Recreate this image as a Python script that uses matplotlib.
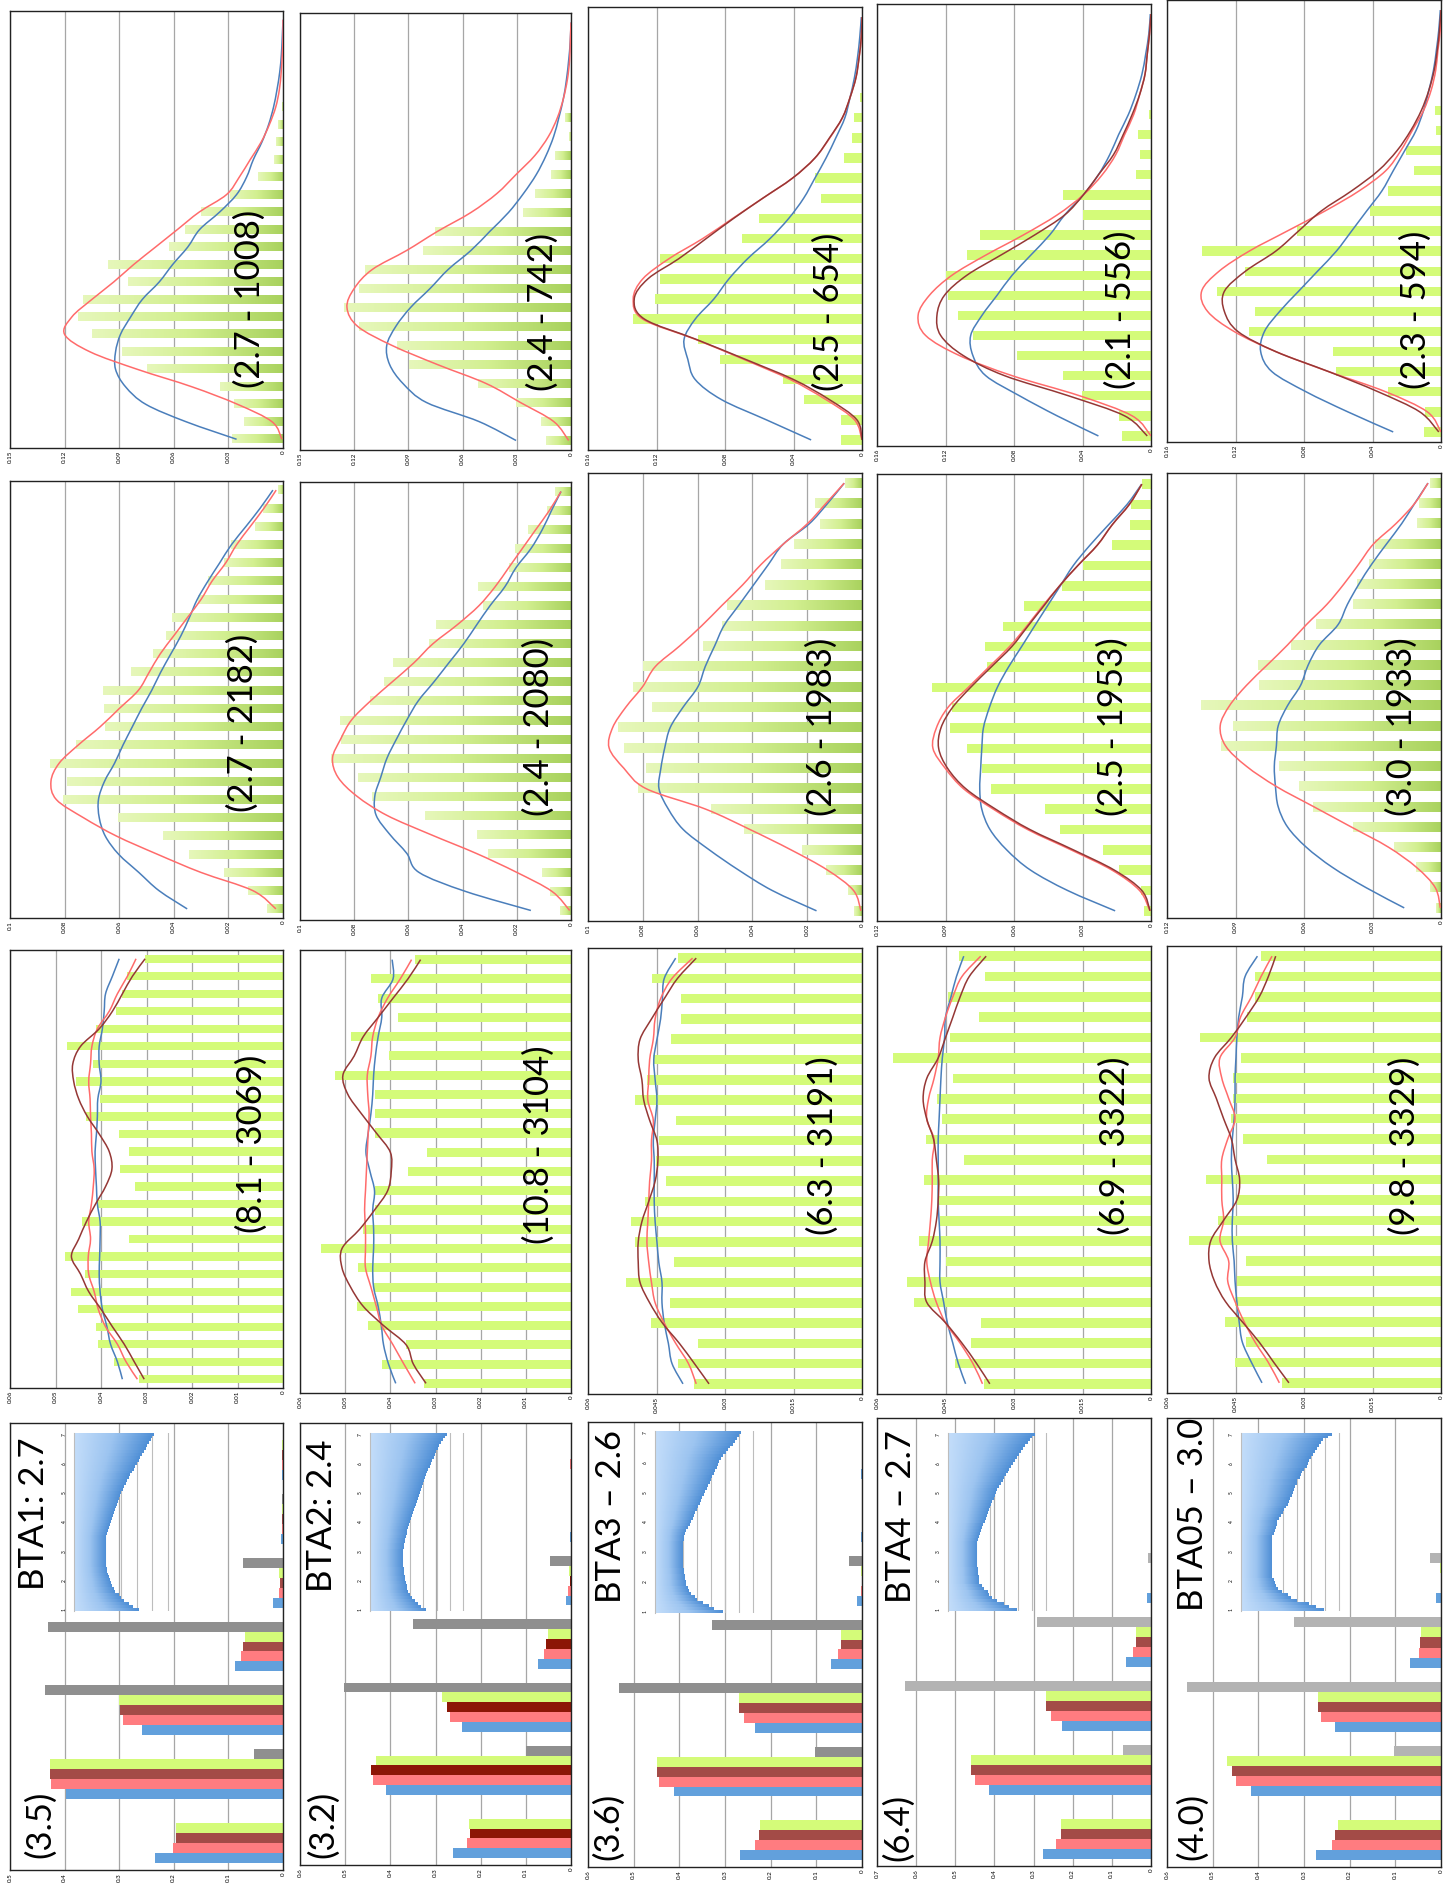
import numpy as np
import matplotlib.pyplot as plt
from matplotlib.colors import LinearSegmentedColormap
from matplotlib.path import Path
from matplotlib.patches import PathPatch

plt.rcParams['font.family'] = ['Lato', 'DejaVu Sans']

W, H = 1450, 1886

# ---------------- data ----------------
bta_names = ["BTA1: 2.7", "BTA2: 2.4", "BTA3 \u2013 2.6", "BTA4 \u2013 2.7", "BTA05 \u2013 3.0"]
bta_paren = ["(3.5)", "(3.2)", "(3.6)", "(6.4)", "(4.0)"]
flat_names = ["(8.1 - 3069)", "(10.8 - 3104)", "(6.3 - 3191)", "(6.9 - 3322)", "(9.8 - 3329)"]
med_names = ["(2.7 - 2182)", "(2.4 - 2080)", "(2.6 - 1983)", "(2.5 - 1953)", "(3.0 - 1933)"]
peak_names = ["(2.7 - 1008)", "(2.4 - 742)", "(2.5 - 654)", "(2.1 - 556)", "(2.3 - 594)"]

# grouped bars: 7 categories per BTA
grp_blue = [[0.235, 0.397, 0.259, 0.087, 0.018, 0.003, 0.002],
            [0.261, 0.409, 0.241, 0.073, 0.012, 0.002, 0.001],
            [0.267, 0.412, 0.235, 0.067, 0.011, 0.002, 0.002],
            [0.277, 0.414, 0.227, 0.064, 0.011, 0.001, 0.001],
            [0.274, 0.416, 0.233, 0.067, 0.010, 0.001, 0.001]]
grp_salmon = [[0.201, 0.424, 0.293, 0.077, 0.007, 0.001, 0.001],
              [0.230, 0.438, 0.268, 0.059, 0.006, 0.001, 0.002],
              [0.235, 0.444, 0.259, 0.053, 0.002, 0.001, 0.0],
              [0.243, 0.449, 0.256, 0.047, 0.001, 0.0, 0.0],
              [0.239, 0.449, 0.263, 0.049, 0.001, 0.0, 0.0]]
grp_dark = [[0.196, 0.426, 0.299, 0.073, 0.006, 0.001, 0.001],
            [0.224, 0.443, 0.274, 0.056, 0.003, 0.001, 0.001],
            [0.226, 0.449, 0.269, 0.047, 0.001, 0.001, 0.0],
            [0.230, 0.461, 0.269, 0.039, 0.001, 0.0, 0.0],
            [0.233, 0.457, 0.269, 0.047, 0.001, 0.0, 0.0]]
grp_lime = [[0.196, 0.427, 0.300, 0.070, 0.007, 0.001, 0.002],
            [0.226, 0.432, 0.286, 0.052, 0.004, 0.0, 0.0],
            [0.224, 0.450, 0.269, 0.045, 0.002, 0.001, 0.0],
            [0.230, 0.461, 0.269, 0.039, 0.001, 0.0, 0.0],
            [0.226, 0.469, 0.269, 0.043, 0.002, 0.0, 0.0]]
grp_gray = [[0.0, 0.054, 0.436, 0.431, 0.074, 0.002, 0.0],
            [0.0, 0.099, 0.503, 0.349, 0.046, 0.0, 0.0],
            [0.0, 0.102, 0.532, 0.328, 0.029, 0.0, 0.0],
            [0.0, 0.071, 0.629, 0.291, 0.007, 0.0, 0.0],
            [0.0, 0.102, 0.557, 0.321, 0.024, 0.0, 0.0]]
grp_max = [0.5, 0.6, 0.6, 0.7, 0.6]
grp_darkcol = ['#a34b47', '#8c1606', '#a34b47', '#a34b47', '#a34b47']
grp_graycol = ['#8f8f8f', '#8f8f8f', '#8f8f8f', '#b3b3b3', '#b3b3b3']

# inset bar charts (positions 1.0 .. 7.0 step 0.1)
inset_pos = np.arange(10, 71) / 10
inset_vals = [
    [4.14, 3.74, 3.46, 3.18, 2.99, 2.82, 2.61, 2.50, 2.40, 2.34,
     2.25, 2.19, 2.12, 2.08, 2.06, 2.04, 2.02, 2.02, 2.02, 2.02,
     2.02, 2.02, 2.02, 2.02, 2.02, 2.04, 2.08, 2.12, 2.19, 2.25,
     2.34, 2.40, 2.47, 2.53, 2.59, 2.65, 2.72, 2.78, 2.86, 2.92,
     2.99, 3.08, 3.16, 3.27, 3.35, 3.46, 3.57, 3.67, 3.78, 3.89,
     3.99, 4.10, 4.20, 4.31, 4.42, 4.54, 4.65, 4.75, 4.86, 4.97, 5.10],
    [4.14, 3.81, 3.56, 3.31, 3.08, 2.93, 2.83, 2.76, 2.71, 2.66,
     2.61, 2.56, 2.53, 2.51, 2.48, 2.46, 2.43, 2.43, 2.43, 2.43,
     2.46, 2.48, 2.51, 2.56, 2.61, 2.66, 2.71, 2.76, 2.81, 2.88,
     2.93, 3.01, 3.08, 3.16, 3.23, 3.31, 3.38, 3.46, 3.53, 3.61,
     3.71, 3.78, 3.86, 3.93, 4.01, 4.11, 4.19, 4.26, 4.34, 4.44,
     4.54, 4.64, 4.74, 4.84, 4.94, 5.04, 5.16, 5.29, 5.41, 5.59, 5.76],
    [4.79, 4.19, 3.79, 3.36, 3.00, 2.79, 2.57, 2.39, 2.29, 2.21,
     2.19, 2.14, 2.11, 2.07, 2.04, 2.00, 2.00, 2.00, 2.00, 2.00,
     2.00, 2.00, 2.00, 2.00, 2.04, 2.07, 2.14, 2.21, 2.29, 2.43,
     2.57, 2.66, 2.75, 2.85, 2.95, 3.05, 3.15, 3.25, 3.35, 3.45,
     3.57, 3.67, 3.77, 3.87, 3.97, 4.07, 4.17, 4.27, 4.37, 4.47,
     4.57, 4.70, 4.85, 5.00, 5.15, 5.30, 5.50, 5.65, 5.80, 5.95, 6.14],
    [4.90, 4.29, 4.00, 3.45, 3.10, 2.90, 2.79, 2.55, 2.39, 2.20,
     2.19, 2.17, 2.14, 2.12, 2.10, 2.07, 2.07, 2.07, 2.07, 2.07,
     2.07, 2.07, 2.07, 2.07, 2.10, 2.20, 2.25, 2.30, 2.40, 2.50,
     2.59, 2.67, 2.75, 2.83, 2.91, 2.99, 3.06, 3.14, 3.22, 3.30,
     3.38, 3.50, 3.62, 3.74, 3.86, 3.98, 4.10, 4.22, 4.34, 4.46,
     4.58, 4.73, 4.88, 5.03, 5.18, 5.34, 5.50, 5.66, 5.83, 6.00, 6.17],
    [5.89, 5.29, 4.79, 4.00, 3.57, 3.29, 2.90, 2.64, 2.50, 2.39,
     2.29, 2.20, 2.19, 2.19, 2.19, 2.19, 2.19, 2.19, 2.19, 2.19,
     2.19, 2.19, 2.19, 2.19, 2.19, 2.19, 2.30, 2.39, 2.50, 2.52,
     2.57, 2.70, 2.80, 2.95, 3.07, 3.20, 3.30, 3.36, 3.50, 3.60,
     3.68, 3.75, 3.85, 3.95, 4.00, 4.15, 4.25, 4.35, 4.50, 4.65,
     4.75, 4.79, 4.95, 5.10, 5.25, 5.40, 5.55, 5.70, 5.85, 6.20, 6.50]]
inset_max = [6.2, 7.2, 7.5, 7.5, 7.5]

# flat distributions
flat_bars = [
    [0.0317, 0.0371, 0.0407, 0.0412, 0.0451, 0.0467, 0.0435, 0.0480, 0.0338, 0.0441, 0.0406, 0.0325, 0.0358,
     0.0338, 0.0360, 0.0432, 0.0402, 0.0455, 0.0417, 0.0475, 0.0412, 0.0366, 0.0353, 0.0343, 0.0303],
    [0.0326, 0.0419, 0.0365, 0.0450, 0.0474, 0.0437, 0.0472, 0.0554, 0.0461, 0.0435, 0.0433, 0.0361, 0.0319,
     0.0433, 0.0433, 0.0433, 0.0523, 0.0402, 0.0488, 0.0382, 0.0427, 0.0442, 0.0345],
    [0.0367, 0.0404, 0.0359, 0.0461, 0.0420, 0.0517, 0.0412, 0.0496, 0.0506, 0.0475, 0.0429, 0.0451, 0.0445,
     0.0408, 0.0498, 0.0471, 0.0457, 0.0418, 0.0396, 0.0396, 0.0460, 0.0402],
    [0.0365, 0.0430, 0.0394, 0.0373, 0.0519, 0.0535, 0.0449, 0.0508, 0.0462, 0.0465, 0.0496, 0.0410, 0.0493,
     0.0458, 0.0469, 0.0434, 0.0565, 0.0441, 0.0376, 0.0444, 0.0363, 0.0420],
    [0.0348, 0.0451, 0.0427, 0.0472, 0.0451, 0.0447, 0.0427, 0.0551, 0.0489, 0.0446, 0.0514, 0.0380, 0.0433,
     0.0459, 0.0455, 0.0455, 0.0437, 0.0528, 0.0425, 0.0407, 0.0407, 0.0394]]
flat_blue = [
    [0.0353, 0.0364, 0.0379, 0.0387, 0.0397, 0.0402, 0.0404, 0.0403, 0.0402, 0.0402, 0.0408, 0.0410, 0.0412,
     0.0413, 0.0410, 0.0408, 0.0407, 0.0400, 0.0404, 0.0404, 0.0397, 0.0393, 0.0390, 0.0375, 0.0360],
    [0.0388, 0.0404, 0.0415, 0.0420, 0.0427, 0.0437, 0.0439, 0.0437, 0.0437, 0.0439, 0.0435, 0.0445, 0.0454,
     0.0449, 0.0443, 0.0439, 0.0437, 0.0433, 0.0427, 0.0419, 0.0419, 0.0394, 0.0396],
    [0.0392, 0.0416, 0.0424, 0.0433, 0.0438, 0.0438, 0.0445, 0.0449, 0.0453, 0.0455, 0.0455, 0.0455, 0.0457,
     0.0453, 0.0449, 0.0453, 0.0456, 0.0449, 0.0441, 0.0437, 0.0433, 0.0408],
    [0.0406, 0.0422, 0.0434, 0.0446, 0.0454, 0.0462, 0.0462, 0.0462, 0.0464, 0.0466, 0.0466, 0.0466, 0.0466,
     0.0464, 0.0462, 0.0460, 0.0457, 0.0452, 0.0450, 0.0438, 0.0426, 0.0410],
    [0.0392, 0.0415, 0.0435, 0.0442, 0.0447, 0.0451, 0.0453, 0.0457, 0.0457, 0.0455, 0.0457, 0.0459, 0.0457,
     0.0453, 0.0451, 0.0451, 0.0449, 0.0447, 0.0443, 0.0435, 0.0429, 0.0402]]
flat_salmon = [
    [0.0320, 0.0345, 0.0364, 0.0390, 0.0406, 0.0415, 0.0427, 0.0428, 0.0423, 0.0427, 0.0421, 0.0417, 0.0415,
     0.0420, 0.0421, 0.0423, 0.0424, 0.0427, 0.0423, 0.0420, 0.0408, 0.0382, 0.0364, 0.0342, 0.0323],
    [0.0345, 0.0370, 0.0394, 0.0419, 0.0431, 0.0443, 0.0455, 0.0455, 0.0455, 0.0457, 0.0455, 0.0453, 0.0451,
     0.0449, 0.0447, 0.0450, 0.0451, 0.0443, 0.0439, 0.0427, 0.0406, 0.0378, 0.0353],
    [0.0363, 0.0380, 0.0408, 0.0433, 0.0453, 0.0461, 0.0467, 0.0471, 0.0469, 0.0467, 0.0465, 0.0461, 0.0461,
     0.0457, 0.0469, 0.0467, 0.0465, 0.0457, 0.0453, 0.0441, 0.0416, 0.0371],
    [0.0369, 0.0390, 0.0418, 0.0450, 0.0470, 0.0483, 0.0491, 0.0487, 0.0483, 0.0480, 0.0479, 0.0479, 0.0475,
     0.0491, 0.0487, 0.0475, 0.0466, 0.0462, 0.0450, 0.0434, 0.0414, 0.0373],
    [0.0354, 0.0378, 0.0407, 0.0431, 0.0451, 0.0467, 0.0465, 0.0484, 0.0476, 0.0480, 0.0480, 0.0480, 0.0467,
     0.0451, 0.0465, 0.0480, 0.0484, 0.0451, 0.0439, 0.0415, 0.0394, 0.0370]]
flat_dark = [
    [0.0305, 0.0327, 0.0349, 0.0375, 0.0400, 0.0427, 0.0445, 0.0465, 0.0449, 0.0432, 0.0412, 0.0390, 0.0376,
     0.0382, 0.0404, 0.0430, 0.0449, 0.0460, 0.0462, 0.0445, 0.0404, 0.0375, 0.0353, 0.0331, 0.0303],
    [0.0321, 0.0349, 0.0365, 0.0415, 0.0460, 0.0488, 0.0507, 0.0507, 0.0468, 0.0435, 0.0406, 0.0398, 0.0400,
     0.0431, 0.0464, 0.0494, 0.0505, 0.0480, 0.0460, 0.0427, 0.0394, 0.0361, 0.0333],
    [0.0335, 0.0367, 0.0400, 0.0437, 0.0465, 0.0486, 0.0490, 0.0490, 0.0482, 0.0467, 0.0453, 0.0447, 0.0449,
     0.0465, 0.0478, 0.0482, 0.0490, 0.0486, 0.0461, 0.0433, 0.0404, 0.0363],
    [0.0353, 0.0382, 0.0414, 0.0450, 0.0491, 0.0495, 0.0495, 0.0479, 0.0470, 0.0466, 0.0465, 0.0470, 0.0476,
     0.0491, 0.0499, 0.0491, 0.0466, 0.0450, 0.0434, 0.0418, 0.0398, 0.0361],
    [0.0333, 0.0366, 0.0398, 0.0435, 0.0472, 0.0496, 0.0508, 0.0504, 0.0476, 0.0447, 0.0441, 0.0451, 0.0459,
     0.0476, 0.0492, 0.0508, 0.0496, 0.0459, 0.0427, 0.0398, 0.0378, 0.0362]]
flat_max = [0.06] * 5
flat_step = [0.01, 0.01, 0.015, 0.015, 0.015]

# medium-width distributions
med_bars = [
    [0.0059, 0.0127, 0.0217, 0.0343, 0.0441, 0.0604, 0.0805, 0.0793, 0.0855, 0.0758, 0.0651, 0.0657, 0.0661,
     0.0556, 0.0476, 0.0429, 0.0407, 0.0312, 0.0275, 0.0217, 0.0191, 0.0102, 0.0072, 0.0020],
    [0.0041, 0.0079, 0.0106, 0.0306, 0.0348, 0.0538, 0.0734, 0.0785, 0.0886, 0.0848, 0.0854, 0.0741, 0.0690,
     0.0655, 0.0523, 0.0497, 0.0324, 0.0343, 0.0230, 0.0206, 0.0157, 0.0090, 0.0058],
    [0.0028, 0.0051, 0.0130, 0.0220, 0.0430, 0.0551, 0.0819, 0.0788, 0.0869, 0.0889, 0.0768, 0.0835, 0.0799,
     0.0582, 0.0511, 0.0491, 0.0355, 0.0295, 0.0250, 0.0153, 0.0170, 0.0062],
    [0.0029, 0.0044, 0.0138, 0.0211, 0.0397, 0.0465, 0.0702, 0.0741, 0.0806, 0.0880, 0.0872, 0.0961, 0.0718,
     0.0726, 0.0648, 0.0556, 0.0389, 0.0300, 0.0170, 0.0094, 0.0089, 0.0041],
    [0.0020, 0.0046, 0.0111, 0.0205, 0.0385, 0.0561, 0.0623, 0.0708, 0.0962, 0.0910, 0.1049, 0.0795, 0.0800,
     0.0656, 0.0549, 0.0385, 0.0369, 0.0315, 0.0287, 0.0107, 0.0095, 0.0049]]
med_blue = [
    [0.0351, 0.0454, 0.0528, 0.0602, 0.0651, 0.0673, 0.0676, 0.0654, 0.0617, 0.0586, 0.0552, 0.0518, 0.0481,
     0.0448, 0.0411, 0.0374, 0.0343, 0.0314, 0.0275, 0.0232, 0.0189, 0.0136, 0.0084, 0.0037],
    [0.0148, 0.0389, 0.0561, 0.0606, 0.0669, 0.0719, 0.0724, 0.0702, 0.0679, 0.0644, 0.0606, 0.0564, 0.0506,
     0.0451, 0.0396, 0.0348, 0.0299, 0.0244, 0.0203, 0.0148, 0.0106, 0.0072, 0.0037],
    [0.0166, 0.0328, 0.0450, 0.0558, 0.0653, 0.0707, 0.0741, 0.0734, 0.0720, 0.0700, 0.0653, 0.0599, 0.0572,
     0.0538, 0.0504, 0.0450, 0.0396, 0.0342, 0.0288, 0.0193, 0.0126, 0.0065],
    [0.0157, 0.0365, 0.0527, 0.0632, 0.0705, 0.0741, 0.0750, 0.0746, 0.0741, 0.0734, 0.0708, 0.0673, 0.0624,
     0.0567, 0.0511, 0.0454, 0.0397, 0.0340, 0.0267, 0.0186, 0.0105, 0.0041],
    [0.0161, 0.0328, 0.0475, 0.0590, 0.0672, 0.0713, 0.0725, 0.0730, 0.0721, 0.0713, 0.0672, 0.0615, 0.0582,
     0.0533, 0.0451, 0.0410, 0.0360, 0.0303, 0.0238, 0.0172, 0.0115, 0.0057]]
med_salmon = [
    [0.0026, 0.0110, 0.0300, 0.0460, 0.0610, 0.0730, 0.0830, 0.0850, 0.0820, 0.0750, 0.0670, 0.0600, 0.0530,
     0.0490, 0.0450, 0.0400, 0.0350, 0.0300, 0.0260, 0.0210, 0.0170, 0.0120, 0.0070, 0.0025],
    [0.0005, 0.0070, 0.0200, 0.0350, 0.0520, 0.0680, 0.0790, 0.0860, 0.0880, 0.0850, 0.0810, 0.0740, 0.0660,
     0.0580, 0.0510, 0.0420, 0.0340, 0.0280, 0.0230, 0.0180, 0.0130, 0.0080, 0.0037],
    [0.0004, 0.0031, 0.0126, 0.0260, 0.0410, 0.0572, 0.0788, 0.0869, 0.0923, 0.0910, 0.0862, 0.0801, 0.0754,
     0.0666, 0.0585, 0.0511, 0.0436, 0.0369, 0.0288, 0.0200, 0.0132, 0.0065],
    [0.0005, 0.0050, 0.0170, 0.0350, 0.0540, 0.0690, 0.0820, 0.0900, 0.0955, 0.0940, 0.0890, 0.0800, 0.0710,
     0.0620, 0.0545, 0.0475, 0.0400, 0.0320, 0.0235, 0.0170, 0.0095, 0.0040],
    [0.0003, 0.0025, 0.0107, 0.0230, 0.0393, 0.0557, 0.0721, 0.0852, 0.0943, 0.0967, 0.0926, 0.0852, 0.0762,
     0.0672, 0.0590, 0.0500, 0.0426, 0.0360, 0.0295, 0.0197, 0.0115, 0.0057]]
med_dark = [None, None, None,
            [0.0004, 0.0040, 0.0160, 0.0340, 0.0530, 0.0680, 0.0810, 0.0890, 0.0930, 0.0920, 0.0870, 0.0790,
             0.0700, 0.0610, 0.0540, 0.0470, 0.0400, 0.0320, 0.0235, 0.0170, 0.0095, 0.0040],
            None]
med_max = [0.1, 0.1, 0.1, 0.12, 0.12]
med_step = [0.02, 0.02, 0.02, 0.03, 0.03]
med_grad = [True, True, True, False, True]

# peaked distributions
peak_bars = [
    [0.0279, 0.0213, 0.0268, 0.0348, 0.0745, 0.0884, 0.1050, 0.1128, 0.1100, 0.0850, 0.0961, 0.0625, 0.0536,
     0.0449, 0.0292, 0.0140, 0.0052, 0.0039, 0.0030, 0.0005, 0.0, 0.0, 0.0, 0.0, 0.0],
    [0.0138, 0.0167, 0.0304, 0.0513, 0.0896, 0.0963, 0.1171, 0.1254, 0.1171, 0.1138, 0.0817, 0.0754, 0.0263,
     0.0200, 0.0108, 0.0088, 0.0013, 0.0033, 0.0, 0.0, 0.0, 0.0, 0.0],
    [0.0120, 0.0120, 0.0340, 0.0460, 0.0830, 0.0960, 0.1340, 0.1210, 0.1180, 0.1180, 0.0700, 0.0600, 0.0240,
     0.0275, 0.0105, 0.0057, 0.0048, 0.0013, 0.0, 0.0, 0.0, 0.0],
    [0.0167, 0.0189, 0.0404, 0.0513, 0.0781, 0.1040, 0.1127, 0.1184, 0.1197, 0.1075, 0.1000, 0.0395, 0.0513,
     0.0088, 0.0066, 0.0075, 0.0009, 0.0, 0.0, 0.0, 0.0, 0.0],
    [0.0102, 0.0093, 0.0310, 0.0611, 0.0633, 0.1120, 0.1088, 0.1310, 0.1142, 0.1394, 0.0841, 0.0412, 0.0310,
     0.0155, 0.0204, 0.0027, 0.0035, 0.0, 0.0, 0.0, 0.0, 0.0]]
peak_blue = [
    [0.0255, 0.0532, 0.0754, 0.0865, 0.0920, 0.0920, 0.0893, 0.0837, 0.0773, 0.0680, 0.0606, 0.0523, 0.0458,
     0.0348, 0.0255, 0.0200, 0.0163, 0.0116, 0.0079, 0.0052, 0.0033, 0.0018, 0.0009, 0.0004, 0.0],
    [0.0304, 0.0510, 0.0800, 0.0930, 0.1004, 0.1020, 0.0970, 0.0888, 0.0780, 0.0680, 0.0554, 0.0450, 0.0346,
     0.0263, 0.0192, 0.0138, 0.0096, 0.0067, 0.0042, 0.0025, 0.0013, 0.0004, 0.0],
    [0.0297, 0.0559, 0.0820, 0.0974, 0.1017, 0.1039, 0.0974, 0.0865, 0.0777, 0.0668, 0.0537, 0.0428, 0.0341,
     0.0275, 0.0210, 0.0153, 0.0100, 0.0070, 0.0044, 0.0026, 0.0013, 0.0004],
    [0.0307, 0.0548, 0.0768, 0.0965, 0.1040, 0.1053, 0.0987, 0.0899, 0.0811, 0.0702, 0.0592, 0.0504, 0.0395,
     0.0307, 0.0241, 0.0189, 0.0132, 0.0088, 0.0053, 0.0031, 0.0013, 0.0004],
    [0.0279, 0.0544, 0.0788, 0.0987, 0.1053, 0.1031, 0.0942, 0.0832, 0.0721, 0.0611, 0.0522, 0.0434, 0.0345,
     0.0279, 0.0212, 0.0146, 0.0102, 0.0071, 0.0044, 0.0027, 0.0013, 0.0004]]
peak_salmon = [
    [0.0006, 0.0060, 0.0250, 0.0500, 0.0800, 0.1060, 0.1200, 0.1160, 0.1050, 0.0930, 0.0820, 0.0700, 0.0580,
     0.0460, 0.0310, 0.0240, 0.0180, 0.0120, 0.0075, 0.0040, 0.0020, 0.0010, 0.0004, 0.0, 0.0],
    [0.0013, 0.0096, 0.0280, 0.0470, 0.0740, 0.0990, 0.1180, 0.1240, 0.1200, 0.1100, 0.0910, 0.0740, 0.0554,
     0.0410, 0.0304, 0.0200, 0.0125, 0.0075, 0.0042, 0.0020, 0.0008, 0.0004, 0.0],
    [0.0, 0.0044, 0.0210, 0.0419, 0.0690, 0.0974, 0.1280, 0.1336, 0.1280, 0.1127, 0.0930, 0.0755, 0.0580,
     0.0406, 0.0275, 0.0188, 0.0114, 0.0070, 0.0035, 0.0017, 0.0004, 0.0],
    [0.0, 0.0110, 0.0417, 0.0811, 0.1118, 0.1316, 0.1360, 0.1294, 0.1162, 0.0965, 0.0746, 0.0548, 0.0395,
     0.0285, 0.0206, 0.0154, 0.0101, 0.0066, 0.0035, 0.0022, 0.0009, 0.0],
    [0.0, 0.0080, 0.0323, 0.0655, 0.0965, 0.1208, 0.1363, 0.1398, 0.1296, 0.1120, 0.0898, 0.0677, 0.0478,
     0.0323, 0.0235, 0.0168, 0.0102, 0.0058, 0.0031, 0.0018, 0.0004, 0.0]]
peak_dark = [None, None,
             [0.0, 0.0030, 0.0190, 0.0400, 0.0680, 0.0970, 0.1270, 0.1330, 0.1250, 0.1070, 0.0910, 0.0750,
              0.0580, 0.0406, 0.0275, 0.0190, 0.0115, 0.0070, 0.0035, 0.0017, 0.0004, 0.0],
             [0.0022, 0.0154, 0.0482, 0.0855, 0.1096, 0.1228, 0.1250, 0.1206, 0.1075, 0.0877, 0.0680, 0.0504,
              0.0395, 0.0307, 0.0219, 0.0162, 0.0110, 0.0066, 0.0035, 0.0022, 0.0009, 0.0],
             [0.0013, 0.0124, 0.0367, 0.0655, 0.0965, 0.1186, 0.1265, 0.1265, 0.1142, 0.0965, 0.0832, 0.0699,
              0.0522, 0.0367, 0.0257, 0.0177, 0.0115, 0.0071, 0.0040, 0.0022, 0.0009, 0.0]]
peak_max = [0.15, 0.15, 0.16, 0.16, 0.16]
peak_step = [0.03, 0.03, 0.04, 0.04, 0.04]
peak_grad = [True, True, False, False, False]

# ---------------- layout (pixels) ----------------
col_l = [10, 300, 588, 877, 1167]
col_r = [283, 571, 862, 1151, 1441]
peak_tb = [(11, 448), (13, 450), (7, 450), (4, 446), (0, 442)]
med_tb = [(481, 918), (482, 920), (473, 921), (474, 921), (473, 918)]
flat_tb = [(950, 1388), (950, 1393), (948, 1394), (946, 1394), (946, 1393)]
grp_tb = [(1423, 1870), (1423, 1865), (1422, 1867), (1418, 1866), (1418, 1867)]
inset_box = [(74, 1433, 171, 1611), (370, 1433, 466, 1611), (655, 1431, 760, 1613),
             (948, 1433, 1053, 1611), (1241, 1433, 1346, 1611)]
paren_xy = [(40, 1858), (323, 1858), (608, 1860), (898, 1861), (1192, 1860)]
name_xy = [(34, 1590), (322, 1592), (611, 1603), (901, 1603), (1193, 1611)]
flat_xy = [(252, 1233), (539, 1244), (823, 1235), (1115, 1235), (1405, 1235)]
med_xy = [(243, 812), (539, 816), (822, 816), (1113, 816), (1402, 816)]
peak_xy = [(250, 388), (543, 391), (829, 391), (1121, 389), (1416, 389)]

LIME = '#d4fb79'
C_BLUE, C_SALMON, C_DARK = '#4a7ebb', '#ff6b6b', '#953735'
lime_cmap = LinearSegmentedColormap.from_list('lime', ['#e6f7ba', '#d2ef90', '#a9d25e'])
blue_cmap = LinearSegmentedColormap.from_list('blu', ['#c3ddfa', '#9cc4f0', '#4f8fd6'])
GRAD = np.linspace(0, 1, 64).reshape(1, -1)

fig = plt.figure(figsize=(W / 100, H / 100), dpi=100)


def px_axes(l, t, r, b):
    return fig.add_axes([l / W, 1 - b / H, (r - l) / W, (b - t) / H])


def label(xy, txt):
    fig.text(xy[0] / W, 1 - xy[1] / H, txt, rotation=90, ha='center', va='bottom', fontsize=25)


def smooth(ax, xs, ys, color):
    pts = np.column_stack([xs, ys]).astype(float)
    n = len(pts)
    verts, codes = [pts[0]], [Path.MOVETO]
    for i in range(n - 1):
        p0, p1, p2, p3 = pts[max(i - 1, 0)], pts[i], pts[i + 1], pts[min(i + 2, n - 1)]
        verts += [p1 + (p2 - p0) / 6, p2 - (p3 - p1) / 6, p2]
        codes += [Path.CURVE4] * 3
    ax.add_patch(PathPatch(Path(verts, codes), fill=False, edgecolor=color, lw=1.1, zorder=4))


def value_axis(ax, xmax, step):
    ticks = np.arange(0, xmax + step / 2, step)
    ax.set_xlim(xmax, 0)
    ax.set_xticks(ticks)
    ax.set_xticklabels([f'{t:g}' for t in ticks], rotation=90, fontsize=4.5)
    ax.tick_params(axis='x', length=0, pad=2)
    ax.set_yticks([])
    ax.xaxis.grid(True, color='#a6a6a6', lw=0.9)
    ax.set_axisbelow(True)
    for s in ax.spines.values():
        s.set_color('#222222')
        s.set_linewidth(1.0)


def dist_panel(box, bars, lines, xmax, step, grad):
    ax = px_axes(*box)
    n = len(bars)
    y = np.arange(1, n + 1)
    h = 0.47
    if grad:
        for yi, v in zip(y, bars):
            if v > 0:
                ax.imshow(GRAD, cmap=lime_cmap, extent=(v, 0, yi - h / 2, yi + h / 2),
                          aspect='auto', interpolation='bilinear', zorder=2)
    else:
        ax.barh(y, bars, height=h, color=LIME, zorder=2)
    for vals, c in lines:
        if vals is not None:
            smooth(ax, vals, y, c)
    value_axis(ax, xmax, step)
    ax.set_ylim(0.5, n + 0.5)


for i in range(5):
    l, r = col_l[i], col_r[i]

    # grouped bar panel
    t, b = grp_tb[i]
    ax = px_axes(l, t, r, b)
    cats = np.arange(7)
    w = 0.156
    series = [grp_blue[i], grp_salmon[i], grp_dark[i], grp_lime[i], grp_gray[i]]
    colors = ['#62a0dc', '#ff7c80', grp_darkcol[i], LIME, grp_graycol[i]]
    for k, (vals, c) in enumerate(zip(series, colors)):
        ax.barh(cats + (k - 2) * w, vals, height=w, color=c, zorder=2)
    value_axis(ax, grp_max[i], 0.1)
    ax.set_ylim(-0.5, 6.5)

    # inset
    ia = px_axes(*inset_box[i])
    ia.patch.set_alpha(0)
    for p, v in zip(inset_pos, inset_vals[i]):
        ia.imshow(GRAD, cmap=blue_cmap, extent=(0, v, p - 0.036, p + 0.036),
                  aspect='auto', interpolation='bilinear', zorder=2)
    ia.set_xlim(0, inset_max[i])
    ia.set_ylim(0.95, 7.05)
    ia.set_xticks(np.arange(1, int(inset_max[i]) + 1))
    ia.set_xticklabels([])
    ia.xaxis.grid(True, color='#bdbdbd', lw=0.8)
    ia.set_axisbelow(True)
    ia.set_yticks(range(1, 8))
    ia.set_yticklabels([str(k) for k in range(1, 8)], rotation=90, fontsize=3.5, va='center')
    ia.tick_params(axis='both', length=0)
    ia.tick_params(axis='y', pad=5)
    for s in ['top', 'right', 'bottom']:
        ia.spines[s].set_visible(False)
    ia.spines['left'].set_color('#bdbdbd')

    label(paren_xy[i], bta_paren[i])
    label(name_xy[i], bta_names[i])

    # flat distributions
    t, b = flat_tb[i]
    dist_panel((l, t, r, b), flat_bars[i],
               [(flat_blue[i], C_BLUE), (flat_salmon[i], C_SALMON), (flat_dark[i], C_DARK)],
               flat_max[i], flat_step[i], False)
    label(flat_xy[i], flat_names[i])

    # medium distributions
    t, b = med_tb[i]
    dist_panel((l, t, r, b), med_bars[i],
               [(med_blue[i], C_BLUE), (med_salmon[i], C_SALMON), (med_dark[i], C_DARK)],
               med_max[i], med_step[i], med_grad[i])
    label(med_xy[i], med_names[i])

    # peaked distributions
    t, b = peak_tb[i]
    dist_panel((l, t, r, b), peak_bars[i],
               [(peak_blue[i], C_BLUE), (peak_salmon[i], C_SALMON), (peak_dark[i], C_DARK)],
               peak_max[i], peak_step[i], peak_grad[i])
    label(peak_xy[i], peak_names[i])

fig.savefig('out.png', dpi=100, facecolor='white')
